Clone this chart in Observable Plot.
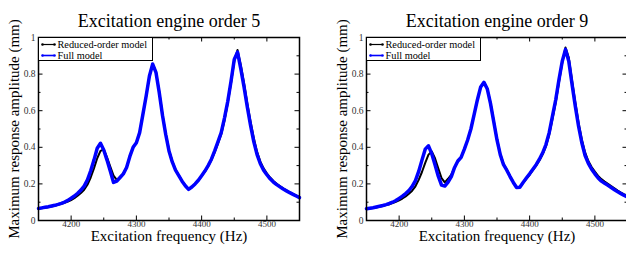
<!DOCTYPE html>
<html>
<head>
<meta charset="utf-8">
<script src="https://cdn.jsdelivr.net/npm/d3@7"></script>
<script src="https://cdn.jsdelivr.net/npm/@observablehq/plot@0.6"></script>
<style>
  html, body { margin: 0; padding: 0; background: #fff; overflow: hidden; }
  #wrap { position: relative; width: 626px; height: 254px; overflow: hidden; }
  .panel { position: absolute; top: 0; }
  .legend { position: absolute; top: 37px; border: 1px solid #000; background: #fff; }
</style>
</head>
<body>
<div id="wrap"></div>
<script>
// ---- data ----
const freq = [4150,4155,4160,4165,4170,4175,4180,4185,4190,4195,4200,4205,4210,4215,4220,4225,4230,4235,4240,4245,4250,4255,4260,4265,4270,4275,4280,4285,4290,4295,4300,4305,4310,4315,4320,4325,4330,4335,4340,4345,4350,4355,4360,4365,4370,4375,4380,4385,4390,4395,4400,4405,4410,4415,4420,4425,4430,4435,4440,4445,4450,4455,4460,4465,4470,4475,4480,4485,4490,4495,4500,4505,4510,4515,4520,4525,4530,4535,4540,4545,4550];

const order5Reduced = [0.064,0.067,0.070,0.073,0.077,0.081,0.086,0.091,0.097,0.103,0.112,0.122,0.135,0.150,0.168,0.195,0.235,0.285,0.340,0.380,0.388,0.345,0.295,0.245,0.222,0.238,0.257,0.290,0.350,0.400,0.425,0.480,0.580,0.680,0.790,0.855,0.812,0.705,0.580,0.475,0.385,0.325,0.278,0.247,0.217,0.192,0.172,0.183,0.199,0.218,0.242,0.267,0.296,0.330,0.372,0.420,0.470,0.545,0.640,0.750,0.870,0.932,0.850,0.750,0.640,0.540,0.450,0.375,0.322,0.285,0.258,0.235,0.216,0.201,0.188,0.176,0.165,0.155,0.146,0.137,0.128];

const order5Full = [0.066,0.069,0.072,0.075,0.079,0.083,0.088,0.094,0.101,0.110,0.122,0.134,0.149,0.166,0.188,0.222,0.272,0.330,0.395,0.422,0.385,0.330,0.270,0.208,0.215,0.235,0.255,0.290,0.350,0.400,0.425,0.480,0.580,0.680,0.790,0.855,0.810,0.700,0.575,0.470,0.380,0.320,0.275,0.245,0.215,0.190,0.170,0.183,0.200,0.220,0.245,0.270,0.300,0.335,0.380,0.430,0.480,0.560,0.650,0.760,0.880,0.920,0.830,0.730,0.620,0.520,0.430,0.360,0.310,0.275,0.250,0.228,0.210,0.196,0.184,0.172,0.162,0.152,0.143,0.134,0.125];

const order9Reduced = [0.062,0.065,0.068,0.071,0.075,0.079,0.084,0.089,0.095,0.102,0.110,0.120,0.132,0.146,0.163,0.187,0.222,0.265,0.315,0.360,0.377,0.340,0.285,0.232,0.208,0.228,0.250,0.290,0.325,0.345,0.390,0.440,0.500,0.580,0.660,0.730,0.757,0.722,0.645,0.545,0.445,0.365,0.310,0.278,0.243,0.210,0.182,0.183,0.206,0.228,0.250,0.275,0.300,0.328,0.362,0.405,0.468,0.555,0.645,0.755,0.862,0.945,0.890,0.765,0.645,0.535,0.443,0.372,0.325,0.292,0.267,0.244,0.226,0.213,0.201,0.188,0.176,0.164,0.153,0.143,0.134];

const order9Full = [0.064,0.067,0.070,0.074,0.078,0.082,0.087,0.093,0.100,0.109,0.121,0.133,0.147,0.164,0.186,0.218,0.268,0.330,0.390,0.408,0.365,0.305,0.242,0.193,0.188,0.210,0.240,0.290,0.325,0.345,0.390,0.440,0.500,0.580,0.660,0.730,0.755,0.720,0.640,0.540,0.440,0.360,0.305,0.275,0.240,0.208,0.180,0.182,0.208,0.232,0.255,0.280,0.305,0.335,0.370,0.415,0.480,0.570,0.660,0.770,0.870,0.935,0.870,0.745,0.625,0.515,0.425,0.355,0.312,0.280,0.255,0.232,0.215,0.203,0.192,0.180,0.168,0.157,0.147,0.137,0.128];

const xMajorTicks = [4200, 4300, 4400, 4500];
const xMinorTicks = [4250, 4350, 4450];
const yMajorTicks = [0, 0.2, 0.4, 0.6, 0.8, 1];
const yTickLabels = ["0", "0.2", "0.4", "0.6", "0.8", "1"];
const yMinorTicks = [0.1, 0.3, 0.5, 0.7, 0.9];

const titles = ["Excitation engine order 5", "Excitation engine order 9"];
const xLabel = "Excitation frequency (Hz)";
const yLabel = "Maximum response amplitude (mm)";
const legendLabels = ["Reduced-order model", "Full model"];
const legendColors = ["#000", "#0000ff"];

const FONT = "Liberation Serif, Tinos, Times New Roman, serif";

// ---- layout ----
const W = 313, H = 254, ML = 38, MR = 14, MT = 37, MB = 34;
const FW = W - ML - MR, FH = H - MT - MB;

function panel(title, reduced, full) {
  const redData = freq.map((f, i) => ({f, y: reduced[i]}));
  const fullData = freq.map((f, i) => ({f, y: full[i]}));
  return Plot.plot({
    width: W, height: H,
    marginLeft: ML, marginRight: MR, marginTop: MT, marginBottom: MB,
    x: {domain: [4150, 4550]},
    y: {domain: [0, 1]},
    style: {fontFamily: FONT, background: "transparent", overflow: "visible"},
    marks: [
      Plot.line(redData, {x: "f", y: "y", stroke: "#000", strokeWidth: 2}),
      Plot.line(fullData, {x: "f", y: "y", stroke: "#0000ff", strokeWidth: 3.5}),
      Plot.frame({stroke: "#000", strokeWidth: 1.5}),
      // inward ticks
      Plot.tickX(xMajorTicks, {x: d => d, insetTop: FH - 4.5, stroke: "#000", strokeWidth: 1}),
      Plot.tickX(xMajorTicks, {x: d => d, insetBottom: FH - 4.5, stroke: "#000", strokeWidth: 1}),
      Plot.tickX(xMinorTicks, {x: d => d, insetTop: FH - 2.5, stroke: "#000", strokeWidth: 1}),
      Plot.tickX(xMinorTicks, {x: d => d, insetBottom: FH - 2.5, stroke: "#000", strokeWidth: 1}),
      Plot.tickY(yMajorTicks, {y: d => d, insetRight: FW - 4.5, stroke: "#000", strokeWidth: 1}),
      Plot.tickY(yMajorTicks, {y: d => d, insetLeft: FW - 4.5, stroke: "#000", strokeWidth: 1}),
      Plot.tickY(yMinorTicks, {y: d => d, insetRight: FW - 2.5, stroke: "#000", strokeWidth: 1}),
      Plot.tickY(yMinorTicks, {y: d => d, insetLeft: FW - 2.5, stroke: "#000", strokeWidth: 1}),
      // tick labels
      Plot.axisX(xMajorTicks, {anchor: "bottom", tickSize: 0, tickPadding: 0, fontSize: 9, color: "#333", label: null, tickFormat: d => String(d)}),
      Plot.axisY(yMajorTicks, {anchor: "left", tickSize: 0, tickPadding: 3, fontSize: 9.5, color: "#333", label: null, tickFormat: d => yTickLabels[yMajorTicks.indexOf(d)]}),
      // titles / labels
      Plot.text([title], {frameAnchor: "top", dy: -23, fontSize: 18, fill: "#000", textAnchor: "middle"}),
      Plot.text([xLabel], {frameAnchor: "bottom", dy: 20.5, fontSize: 15, fill: "#000", textAnchor: "middle"}),
      Plot.text([yLabel], {frameAnchor: "left", dx: -24, rotate: -90, fontSize: 15, fill: "#000", textAnchor: "middle"})
    ]
  });
}

function legend(left) {
  const svg = Plot.plot({
    width: 113, height: 22,
    marginLeft: 0, marginRight: 0, marginTop: 5.5, marginBottom: 5.5,
    y: {type: "point", domain: legendLabels, padding: 0, axis: null},
    style: {fontFamily: FONT, background: "#fff"},
    marks: [
      Plot.ruleY(legendLabels, {y: d => d, stroke: d => legendColors[legendLabels.indexOf(d)], strokeWidth: d => d === legendLabels[0] ? 1.2 : 1.6, insetLeft: 3, insetRight: 98}),
      Plot.dot(legendLabels, {y: d => d, frameAnchor: "left", dx: 3, r: 1.3, fill: d => legendColors[legendLabels.indexOf(d)], stroke: null}),
      Plot.dot(legendLabels, {y: d => d, frameAnchor: "left", dx: 15, r: 1.3, fill: d => legendColors[legendLabels.indexOf(d)], stroke: null}),
      Plot.text(legendLabels, {y: d => d, text: d => d, frameAnchor: "left", dx: 18, textAnchor: "start", fontSize: 10.3, fill: "#000"})
    ]
  });
  const div = document.createElement("div");
  div.className = "legend";
  div.style.left = left + "px";
  div.style.lineHeight = "0";
  div.appendChild(svg);
  return div;
}

const wrap = document.getElementById("wrap");
const p1 = panel(titles[0], order5Reduced, order5Full);
p1.classList.add("panel"); p1.style.left = "0px";
const p2 = panel(titles[1], order9Reduced, order9Full);
p2.classList.add("panel"); p2.style.left = "328px";
wrap.appendChild(p1);
wrap.appendChild(p2);
wrap.appendChild(legend(38));
wrap.appendChild(legend(366));
</script>
</body>
</html>
